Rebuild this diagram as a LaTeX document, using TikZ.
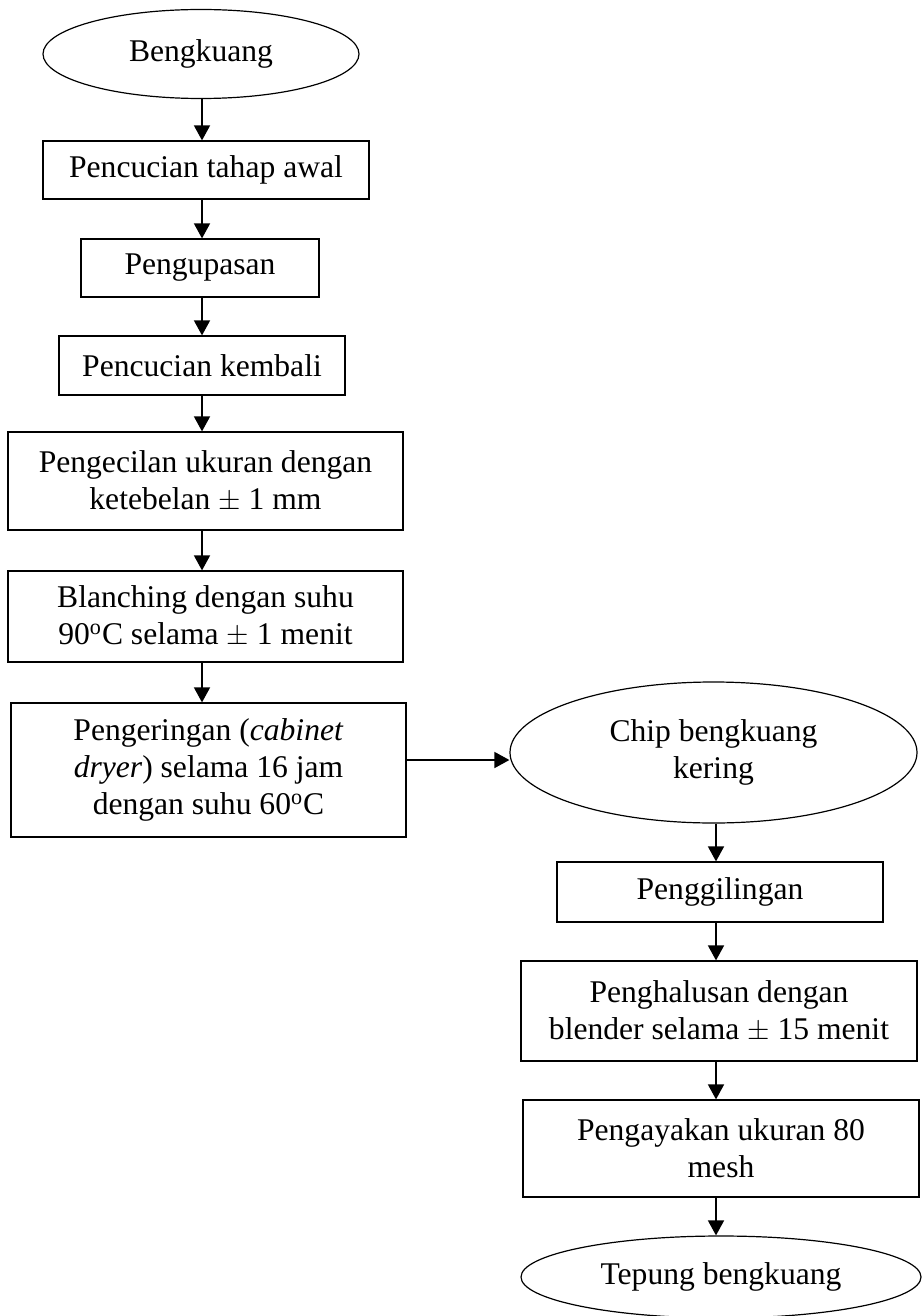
\documentclass[tikz,border=0pt]{standalone}
\usepackage{fontspec}
\setmainfont{Liberation Serif}
\usetikzlibrary{arrows.meta,shapes.geometric}
\newcommand\diafont{\fontsize{15.8}{18.5}\selectfont}
\begin{document}
\begin{tikzpicture}[x=0.5pt,y=-0.5pt,
  box/.style={draw, line width=0.6pt, rectangle, inner sep=0pt, align=center, font=\diafont},
  oval/.style={draw, line width=0.6pt, ellipse, inner sep=0pt, align=center, font=\diafont},
  arr/.style={line width=0.8pt, -{Triangle[length=7.5pt,width=8pt]}}]
\useasboundingbox (0,0) rectangle (921,1316);
\node[oval, minimum width=158pt, minimum height=44.5pt] (n1) at (201,54) {Bengkuang};
\node[box, minimum width=163pt, minimum height=29pt] (n2) at (206,170) {Pencucian tahap awal};
\node[box, minimum width=119pt, minimum height=29pt] (n3) at (200,268) {Pengupasan};
\node[box, minimum width=143pt, minimum height=29.5pt] (n4) at (202,365.5) {Pencucian kembali};
\node[box, minimum width=197.5pt, minimum height=49pt] (n5) at (205.5,481) {Pengecilan ukuran dengan\\ketebelan $\pm$ 1 mm};
\node[box, minimum width=197.5pt, minimum height=45.5pt] (n6) at (205.5,616.5) {Blanching dengan suhu\\90\textsuperscript{o}C selama $\pm$ 1 menit};
\node[box, minimum width=197.5pt, minimum height=67pt] (n7) at (208.5,770) {Pengeringan (\textit{cabinet}\\\textit{dryer}) selama 16 jam\\dengan suhu 60\textsuperscript{o}C};
\node[oval, minimum width=203.5pt, minimum height=70.5pt] (n8) at (713.5,752.5) {Chip bengkuang\\kering};
\node[box, minimum width=163pt, minimum height=30pt] (n9) at (720,892) {Penggilingan};
\node[box, minimum width=198pt, minimum height=50pt] (n10) at (719,1011) {Penghalusan dengan\\blender selama $\pm$ 15 menit};
\node[box, minimum width=198pt, minimum height=48.5pt] (n11) at (721,1148.5) {Pengayakan ukuran 80\\mesh};
\node[oval, minimum width=200pt, minimum height=41pt] (n12) at (721,1277) {Tepung bengkuang};
\coordinate (xl) at (202,0);
\coordinate (xr) at (716,0);
\coordinate (yh) at (0,760);
\draw[arr] (xl |- n1.south) -- (xl |- n2.north);
\draw[arr] (xl |- n2.south) -- (xl |- n3.north);
\draw[arr] (xl |- n3.south) -- (xl |- n4.north);
\draw[arr] (xl |- n4.south) -- (xl |- n5.north);
\draw[arr] (xl |- n5.south) -- (xl |- n6.north);
\draw[arr] (xl |- n6.south) -- (xl |- n7.north);
\draw[arr] (n7.east |- yh) -- (n8.west |- yh);
\draw[arr] (xr |- n8.south) -- (xr |- n9.north);
\draw[arr] (xr |- n9.south) -- (xr |- n10.north);
\draw[arr] (xr |- n10.south) -- (xr |- n11.north);
\draw[arr] (xr |- n11.south) -- (xr |- n12.north);
\end{tikzpicture}
\end{document}
